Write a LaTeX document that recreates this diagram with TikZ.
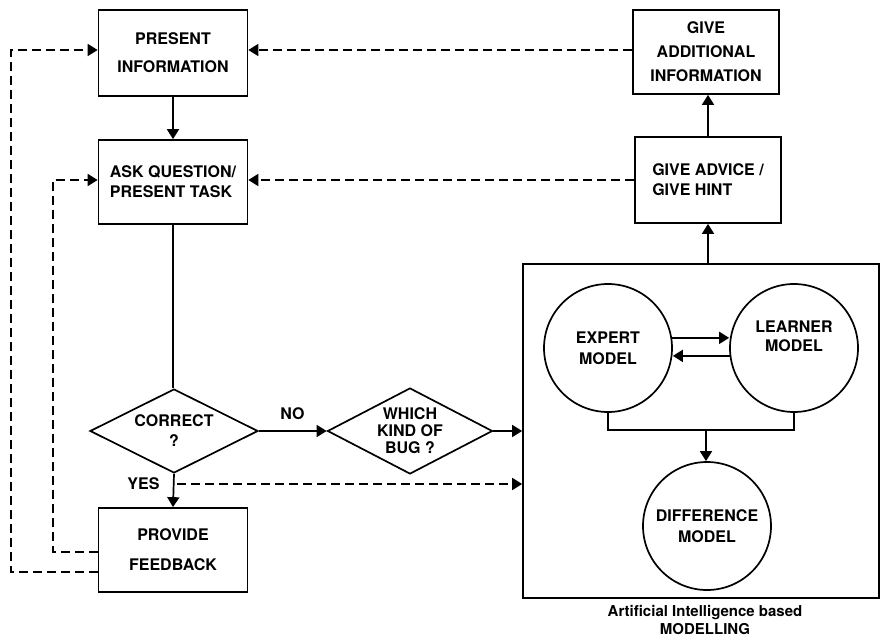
\documentclass[tikz,border=0pt]{standalone}
\usepackage{fontspec}
\setmainfont{TeX Gyre Heros}
\usetikzlibrary{arrows.meta,shapes.geometric}
\begin{document}
\begin{tikzpicture}[x=1pt,y=-1pt,
  every node/.style={inner sep=0pt},
  txt/.style={font=\bfseries\fontsize{16}{#1}\selectfont},
  box/.style={draw,line width=1.7pt,rectangle,align=center},
  decision/.style={draw,line width=1.7pt,diamond,aspect=1.9,align=center},
  model/.style={draw,line width=1.7pt,circle,minimum size=128pt,align=center},
  flow/.style={line width=1.7pt,-{Triangle[length=10pt,width=12pt]}},
  plain/.style={line width=1.7pt},
  back/.style={line width=1.7pt,dash pattern=on 9pt off 5pt,-{Triangle[length=10pt,width=12pt]}},
  tag/.style={font=\bfseries\fontsize{16}{18}\selectfont,anchor=base}
]
\useasboundingbox (0,0) rectangle (881,642);

% left column
\node[box,txt=28,minimum width=149pt,minimum height=86pt] (pres) at (173,53) {PRESENT\\INFORMATION};
\node[box,txt=20,minimum width=149pt,minimum height=84pt,align=left] (ask) at (173,182) {ASK QUESTION/\\PRESENT TASK};
\node[decision,txt=20,minimum width=168pt,minimum height=84pt] (corr) at (174,431) {CORRECT\\?};
\node[box,txt=30,minimum width=149pt,minimum height=84pt] (feed) at (173,550) {PROVIDE\\FEEDBACK};
\node[decision,txt=17,minimum width=165pt,minimum height=86pt] (bug) at (410,431) {WHICH\\KIND OF\\BUG ?};

% right column
\node[box,txt=24,minimum width=146pt,minimum height=84pt] (addl) at (706,52) {GIVE\\ADDITIONAL\\INFORMATION};
\node[box,txt=20,minimum width=146pt,minimum height=86pt,align=left] (advice) at (708,180) {GIVE ADVICE /\\GIVE HINT};

% modelling block
\node[box,minimum width=356pt,minimum height=334pt] (ai) at (701,431) {};
\node[model,txt=21] (expert) at (608,348) {EXPERT\\MODEL};
\node[model,txt=19] (learner) at (794,348) {LEARNER\\MODEL\\[4pt]};
\node[model,txt=21] (diff) at (707,526) {DIFFERENCE\\MODEL};
\node[font=\bfseries\fontsize{15}{18}\selectfont,align=center] (cap) at (705,620) {Artificial Intelligence based\\MODELLING};

% solid flow
\draw[flow] (pres.south) -- (ask.north);
\draw[plain] (ask.south) -- (ask.south |- corr.north);
\draw[flow] (corr.east) -- (bug.west);
\draw[flow] (bug.east) -- (ai.west |- bug.east);
\draw[flow] (corr.south) -- (feed.north);
\draw[flow] (advice.south |- ai.north) -- (advice.south);
\draw[flow] (advice.north) -- (advice.north |- addl.south);
\draw[flow] (expert.9) -- (expert.9 -| learner.west);
\draw[flow] (learner.187) -- (learner.187 -| expert.east);
\draw[plain] (expert.south) -- ++(0,17) -| (learner.south);
\coordinate (join) at (706,429);
\draw[flow] (join) -- (join |- diff.north);

\node[tag] (no) at (292.5,419) {NO};
\node[tag] (yes) at (143.5,489) {YES};

% dashed returns
\coordinate (yesfork) at (177,484);
\draw[back] (yesfork) -- (ai.west |- yesfork);
\draw[back] ([yshift=2pt]addl.west) -- ([yshift=3pt]pres.east);
\draw[back] (advice.west) -- ([yshift=2pt]ask.east);
\draw[back] ([yshift=-22pt]feed.west) -| ([xshift=-87pt,yshift=3pt]pres.west) -- ([yshift=3pt]pres.west);
\draw[back] ([yshift=-2pt]feed.west) -| ([xshift=-45pt,yshift=2pt]ask.west) -- ([yshift=2pt]ask.west);
\end{tikzpicture}
\end{document}
